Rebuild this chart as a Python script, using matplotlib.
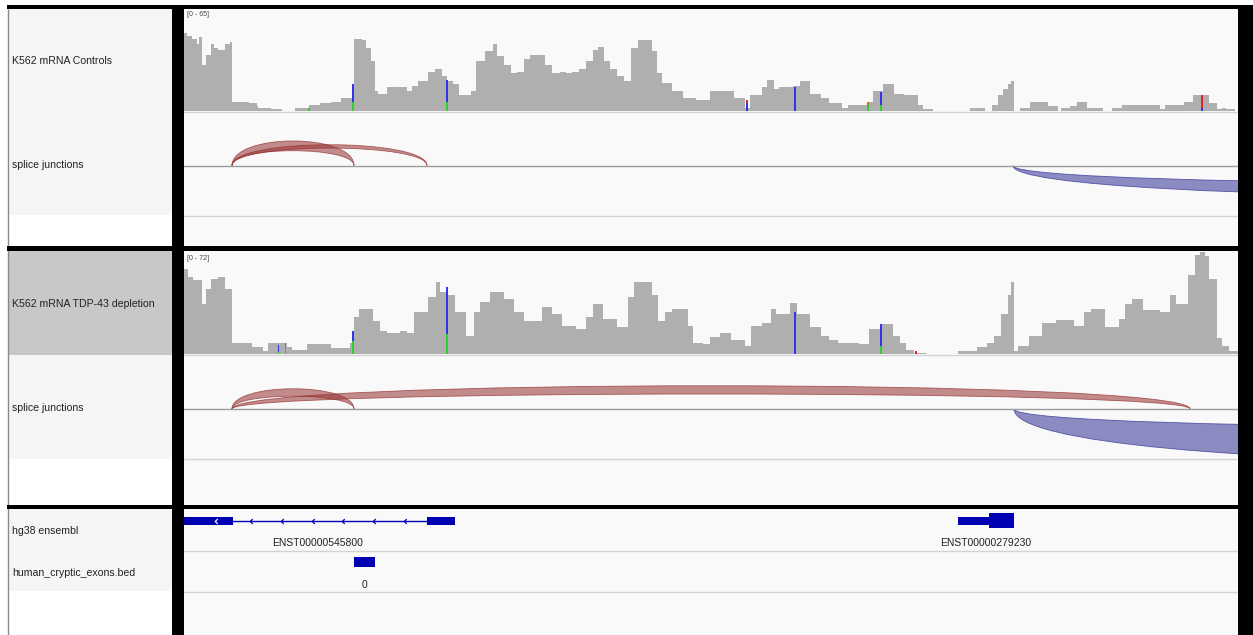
import numpy as np
import matplotlib
matplotlib.use("Agg")
import matplotlib.pyplot as plt
from matplotlib.path import Path
from matplotlib.patches import PathPatch, Rectangle

plt.rcParams['font.family'] = ['Liberation Sans', 'DejaVu Sans']

W, H = 1253, 635
VIEW = (0, 1054)

# ---- coverage: K562 mRNA Controls (step starts, depth) ----
ctrl_range = 65
ctrl_starts = [
    0, 3, 8, 13, 15, 18, 22, 27, 30, 34,
    41, 46, 48, 57, 65, 73, 74, 87, 98, 111,
    125, 136, 147, 157, 168, 170, 178, 182, 187, 191,
    194, 203, 213, 223, 228, 234, 244, 251, 258, 263,
    269, 275, 287, 292, 301, 309, 313, 320, 327, 333,
    340, 346, 351, 361, 368, 376, 382, 388, 395, 402,
    409, 414, 420, 426, 433, 440, 447, 454, 461, 468,
    473, 478, 488, 499, 512, 526, 540, 550, 561, 566,
    578, 583, 590, 595, 609, 616, 626, 637, 645, 658,
    664, 683, 689, 699, 710, 720, 734, 739, 749, 786,
    801, 808, 814, 819, 824, 827, 830, 836, 846, 864,
    874, 877, 886, 893, 903, 919, 928, 938, 976, 981,
    1000, 1009, 1025, 1033, 1038, 1042, 1051]
ctrl_depth = [
    50, 48, 46, 43, 47, 29, 36, 43, 40, 39,
    43, 44, 6, 6, 5, 3, 2, 1, 0, 2,
    4, 5, 6, 8, 8, 46, 45, 40, 32, 13,
    11, 15, 15, 13, 16, 19, 25, 27, 22, 19,
    17, 10, 13, 32, 38, 43, 35, 29, 24, 25,
    33, 36, 36, 29, 24, 25, 24, 25, 27, 32,
    39, 41, 32, 27, 22, 19, 40, 45, 45, 38,
    24, 18, 13, 8, 7, 13, 13, 8, 2, 10,
    15, 20, 14, 15, 16, 19, 11, 8, 5, 2,
    4, 6, 13, 17, 11, 10, 4, 1, 0, 2,
    0, 4, 10, 14, 17, 19, 0, 2, 6, 3,
    0, 2, 3, 6, 2, 0, 2, 4, 1, 4,
    6, 10, 5, 1, 2, 1, 0]

# ---- coverage: K562 mRNA TDP-43 depletion ----
tdp_range = 72
tdp_starts = [
    0, 4, 9, 18, 22, 27, 34, 41, 48, 68,
    79, 84, 103, 108, 123, 147, 166, 170, 175, 189,
    196, 203, 216, 223, 230, 244, 252, 256, 263, 271,
    282, 290, 296, 306, 320, 330, 340, 358, 368, 378,
    392, 402, 409, 419, 433, 444, 450, 468, 474, 481,
    488, 504, 509, 519, 526, 536, 547, 561, 567, 578,
    587, 592, 606, 613, 626, 637, 645, 654, 675, 685,
    696, 709, 716, 722, 730, 742, 774, 793, 803, 810,
    817, 824, 827, 830, 834, 845, 858, 872, 890, 900,
    907, 921, 935, 941, 948, 959, 976, 986, 992, 1004,
    1011, 1016, 1021, 1025, 1033, 1038, 1045]
tdp_depth = [
    60, 54, 52, 35, 46, 53, 54, 46, 8, 5,
    2, 8, 5, 3, 7, 4, 8, 26, 32, 23,
    16, 15, 16, 15, 30, 40, 51, 44, 42, 30,
    13, 30, 37, 44, 39, 30, 23, 33, 28, 20,
    18, 26, 35, 25, 19, 40, 51, 42, 23, 30,
    32, 20, 8, 7, 12, 15, 10, 6, 20, 22,
    32, 28, 36, 28, 19, 13, 10, 8, 7, 18,
    21, 13, 8, 3, 1, 0, 2, 5, 8, 13,
    28, 42, 51, 2, 6, 13, 22, 24, 20, 30,
    32, 19, 25, 35, 39, 31, 30, 42, 35, 56,
    70, 72, 69, 53, 11, 6, 2]

# ---- mismatch columns (allele counts A, C, G, T) ----
ctrl_mm_pos = [125, 169, 263, 563, 611, 684, 697, 1018]
ctrl_mm_A = [2, 6, 6, 0, 0, 4, 4, 0]
ctrl_mm_C = [0, 11, 14, 5, 15, 0, 8, 2]
ctrl_mm_G = [0, 0, 0, 0, 0, 2, 0, 0]
ctrl_mm_T = [0, 0, 0, 2, 0, 0, 0, 8]

tdp_mm_pos = [94.5, 101.5, 169, 263, 611, 697, 732]
tdp_mm_A = [1.5, 4, 9, 14, 0, 6, 0]
tdp_mm_C = [5, 0, 7, 33, 30, 15, 0]
tdp_mm_G = [0, 3.5, 0, 0, 0, 0, 0]
tdp_mm_T = [0, 0, 0, 0, 0, 0, 2]

# ---- splice junctions ----
ctrl_junc_start = [48, 48, 829]
ctrl_junc_end = [170, 243, 1816]
ctrl_junc_strand = ['+', '+', '-']
ctrl_junc_outer = [33, 28, 41]
ctrl_junc_inner = [20, 23.5, 23.5]

tdp_junc_start = [48, 48, 830]
tdp_junc_end = [170, 1006, 1816]
tdp_junc_strand = ['+', '+', '-']
tdp_junc_outer = [27, 31, 70]
tdp_junc_inner = [17, 20, 24]

# ---- annotation ----
gene_names = ['ENST00000545800', 'ENST00000279230']
gene_exons = [[(-3, 48.5), (243, 271)], [(774, 805)]]
gene_cds = [[], [(805, 830)]]
gene_strand = ['-', '-']
cryptic_exons = [(170, 191)]
cryptic_names = ['0']

track_labels = ['K562 mRNA Controls', 'splice junctions',
                'K562 mRNA TDP-43 depletion', 'splice junctions',
                'hg38 ensembl', 'human_cryptic_exons.bed']

ALLELE_COLORS = {'A': '#2ecf2e', 'C': '#3434ee', 'G': '#d17105', 'T': '#e32222'}
COV_COLOR = '#afafaf'
JUNC_COLORS = {'+': (150/255, 50/255, 50/255), '-': (50/255, 50/255, 150/255)}
GENE_COLOR = '#0000b2'
DATA_BG = '#f9f9f9'
LABEL_BG = '#f5f5f5'
SEL_BG = '#c8c8c8'
SEP = '#d2d2da'

fig = plt.figure(figsize=(W / 100, H / 100), dpi=100)
fig.patch.set_facecolor('white')


def box(x0, y0, x1, y1):
    return [x0 / W, 1 - y1 / H, (x1 - x0) / W, (y1 - y0) / H]


def clean(ax):
    ax.set_xticks([])
    ax.set_yticks([])
    for s in ax.spines.values():
        s.set_visible(False)
    ax.patch.set_alpha(0)


# frame / backgrounds in pixel space
frame = fig.add_axes([0, 0, 1, 1])
frame.set_xlim(0, W)
frame.set_ylim(H, 0)
frame.axis('off')

for x0, y0, x1, y1, c in [(8, 9, 172, 215, LABEL_BG), (8, 251, 172, 355, SEL_BG),
                          (8, 355, 172, 459, LABEL_BG), (8, 509, 172, 591, LABEL_BG),
                          (184, 9, 1238, 245.5, DATA_BG), (184, 250.5, 1238, 504.5, DATA_BG),
                          (184, 509, 1238, 635, DATA_BG)]:
    frame.add_patch(Rectangle((x0, y0), x1 - x0, y1 - y0, color=c, lw=0))

for y in [112, 215.5, 355, 459, 551, 592]:
    frame.hlines(y, 184, 1238, color=SEP, lw=1)
frame.vlines(7.5, 9, H, color='#8a8a8a', lw=1)

for x0, y0, x1, y1 in [(7, 5, W, 9), (172, 5, 184, H), (1238, 5, W, H),
                       (7, 245.5, W, 250.5), (7, 504.5, W, 509)]:
    frame.add_patch(Rectangle((x0, y0), x1 - x0, y1 - y0, color='black', lw=0, zorder=5))

for lab, y in zip(track_labels, [61, 165, 304, 408, 531, 573]):
    frame.text(12, y, lab, fontsize=7.6, color='#222222', va='center', ha='left')
frame.text(187, 15, '[0 - %d]' % ctrl_range, fontsize=5, color='#444444', va='center')
frame.text(187, 259, '[0 - %d]' % tdp_range, fontsize=5, color='#444444', va='center')


def coverage(rect, starts, depth, rng, mm_pos, mm_a, mm_c, mm_g, mm_t):
    ax = fig.add_axes(box(*rect))
    clean(ax)
    ax.set_xlim(*VIEW)
    ax.set_ylim(0, rng)
    edges = list(starts) + [VIEW[1]]
    ax.stairs(depth, edges, fill=True, color=COV_COLOR, lw=0)
    bottom = np.zeros(len(mm_pos))
    for allele, vals in zip('ACGT', [mm_a, mm_c, mm_g, mm_t]):
        vals = np.asarray(vals, dtype=float)
        ax.bar(mm_pos, vals, bottom=bottom, width=1.4, color=ALLELE_COLORS[allele], lw=0)
        bottom += vals
    return ax


def junctions(rect, base_y, starts, ends, strands, outer, inner):
    x0, y0, x1, y1 = rect
    ax = fig.add_axes(box(*rect))
    clean(ax)
    ax.set_xlim(*VIEW)
    ax.set_ylim(-(y1 - base_y), base_y - y0)
    ax.axhline(0, color='#9c9c9c', lw=1)
    for s, e, st, ho, hi in zip(starts, ends, strands, outer, inner):
        sg = 1 if st == '+' else -1
        verts = [(s, 0), (s, sg * ho), (e, sg * ho), (e, 0),
                 (e, sg * hi), (s, sg * hi), (s, 0), (s, 0)]
        codes = [Path.MOVETO, Path.CURVE4, Path.CURVE4, Path.CURVE4,
                 Path.CURVE4, Path.CURVE4, Path.CURVE4, Path.CLOSEPOLY]
        col = JUNC_COLORS[st]
        ax.add_patch(PathPatch(Path(verts, codes), facecolor=col + (0.55,),
                               edgecolor=col + (0.75,), lw=0.6))
    return ax


coverage((184, 9, 1238, 111), ctrl_starts, ctrl_depth, ctrl_range,
         ctrl_mm_pos, ctrl_mm_A, ctrl_mm_C, ctrl_mm_G, ctrl_mm_T)
junctions((184, 112, 1238, 216), 165.7, ctrl_junc_start, ctrl_junc_end,
          ctrl_junc_strand, ctrl_junc_outer, ctrl_junc_inner)
coverage((184, 252, 1238, 354), tdp_starts, tdp_depth, tdp_range,
         tdp_mm_pos, tdp_mm_A, tdp_mm_C, tdp_mm_G, tdp_mm_T)
junctions((184, 355, 1238, 459), 409, tdp_junc_start, tdp_junc_end,
          tdp_junc_strand, tdp_junc_outer, tdp_junc_inner)

# gene track
gax = fig.add_axes(box(184, 509, 1238, 551))
clean(gax)
gax.set_xlim(*VIEW)
gax.set_ylim(42, 0)
chevron = Path([(0.5, 1), (-0.5, 0), (0.5, -1)], [Path.MOVETO, Path.LINETO, Path.LINETO])
spacing = 30.8
for name, exons, cds, strand in zip(gene_names, gene_exons, gene_cds, gene_strand):
    blocks = sorted(exons + cds)
    gs, ge = blocks[0][0], blocks[-1][1]
    for (a, b), (c, d) in zip(blocks[:-1], blocks[1:]):
        if c > b:
            gax.plot([b, c], [12, 12], color=GENE_COLOR, lw=1)
            cx = np.arange(b + 0.6 * spacing, c - 5, spacing)
            gax.plot(cx, np.full(len(cx), 12), ls='none', marker=chevron, ms=3.5,
                     mew=0.9, mec=GENE_COLOR, mfc='none')
    for a, b in exons:
        gax.add_patch(Rectangle((a, 8), b - a, 8, color=GENE_COLOR, lw=0))
        if a < VIEW[0] and len(exons) > 1:
            va = max(a, VIEW[0])
            gax.plot([va + 0.65 * (b - va)], [12], marker=chevron, ms=3.5, mew=0.9,
                     mec='white', mfc='none')
    for a, b in cds:
        gax.add_patch(Rectangle((a, 4), b - a, 15, color=GENE_COLOR, lw=0))
    gax.text((gs + ge) / 2, 34, name, fontsize=7.5, color='#222222', ha='center', va='center')

cax = fig.add_axes(box(184, 551, 1238, 592))
clean(cax)
cax.set_xlim(*VIEW)
cax.set_ylim(41, 0)
for (a, b), name in zip(cryptic_exons, cryptic_names):
    cax.add_patch(Rectangle((a, 6), b - a, 10, color=GENE_COLOR, lw=0))
    cax.text((a + b) / 2, 34, name, fontsize=7.5, color='#222222', ha='center', va='center')

fig.savefig('out.png', dpi=100)
